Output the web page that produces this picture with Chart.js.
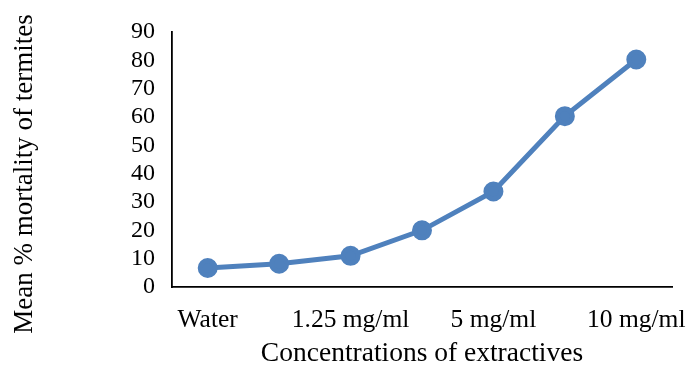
<!DOCTYPE html>
<html>
<head>
<meta charset="utf-8">
<script src="https://cdn.jsdelivr.net/npm/chart.js@4/dist/chart.umd.min.js"></script>
<style>
  html, body { margin: 0; padding: 0; background: #fff; }
  #wrap { width: 691px; height: 370px; position: relative; }
</style>
</head>
<body>
<div id="wrap"><canvas id="mortalityChart"></canvas></div>
<script>
// Concentration categories (only every other label is printed in the original)
const categories = ['Water', '', '1.25 mg/ml', '', '5 mg/ml', '', '10 mg/ml'];
// Mean % mortality of termites
const mortality = [6.7, 8.2, 11, 20, 33.7, 60.3, 80.3];
// Y axis ticks
const yMin = 0;
const yMax = 90;
const yStep = 10;

const serif = "'Liberation Serif', 'Times New Roman', serif";
const lineBlue = '#4F81BD';

// y title drawn by hand so it can sit where Excel put it
const yTitlePlugin = {
    id: 'yTitle',
    afterDraw(chart) {
        const ctx = chart.ctx;
        ctx.save();
        ctx.translate(25, 174);
        ctx.rotate(-Math.PI / 2);
        ctx.font = '27px ' + serif;
        ctx.fillStyle = '#000';
        ctx.textAlign = 'center';
        ctx.textBaseline = 'middle';
        ctx.fillText('Mean % mortality of termites', 0, 0);
        ctx.restore();
    }
};

const ctx = document.getElementById('mortalityChart').getContext('2d');
const mortalityChart = new Chart(ctx, {
    type: 'line',
    data: {
        labels: categories,
        datasets: [{
            data: mortality,
            borderColor: lineBlue,
            backgroundColor: lineBlue,
            borderWidth: 5,
            pointRadius: 7.5,
            pointHoverRadius: 7.5,
            pointBackgroundColor: lineBlue,
            pointBorderColor: lineBlue,
            tension: 0
        }]
    },
    options: {
        responsive: true,
        maintainAspectRatio: false,
        animation: false,
        layout: {
            padding: { top: 32, right: 19, left: 0, bottom: 0 }
        },
        scales: {
            x: {
                offset: true,
                grid: { display: false, drawTicks: false },
                border: { display: true, color: '#000', width: 1.8 },
                ticks: {
                    autoSkip: false,
                    maxRotation: 0,
                    minRotation: 0,
                    padding: 18,
                    color: '#000',
                    font: { family: serif, size: 25.5 }
                },
                title: {
                    display: true,
                    text: 'Concentrations of extractives',
                    color: '#000',
                    font: { family: serif, size: 27.5, lineHeight: 1 },
                    padding: { top: 0, bottom: 2 }
                },
                afterFit: function(scale) {
                    scale.height = 83;
                    scale.paddingLeft = 0;
                    scale.paddingRight = 0;
                }
            },
            y: {
                min: yMin,
                max: yMax,
                grid: { display: false, drawTicks: false },
                border: { display: true, color: '#000', width: 1.8 },
                ticks: {
                    autoSkip: false,
                    stepSize: yStep,
                    padding: 17,
                    color: '#000',
                    font: { family: serif, size: 24 }
                },
                afterFit: function(scale) {
                    scale.width = 172;
                }
            }
        },
        plugins: {
            legend: { display: false },
            tooltip: { enabled: false }
        }
    },
    plugins: [yTitlePlugin]
});
</script>
</body>
</html>
